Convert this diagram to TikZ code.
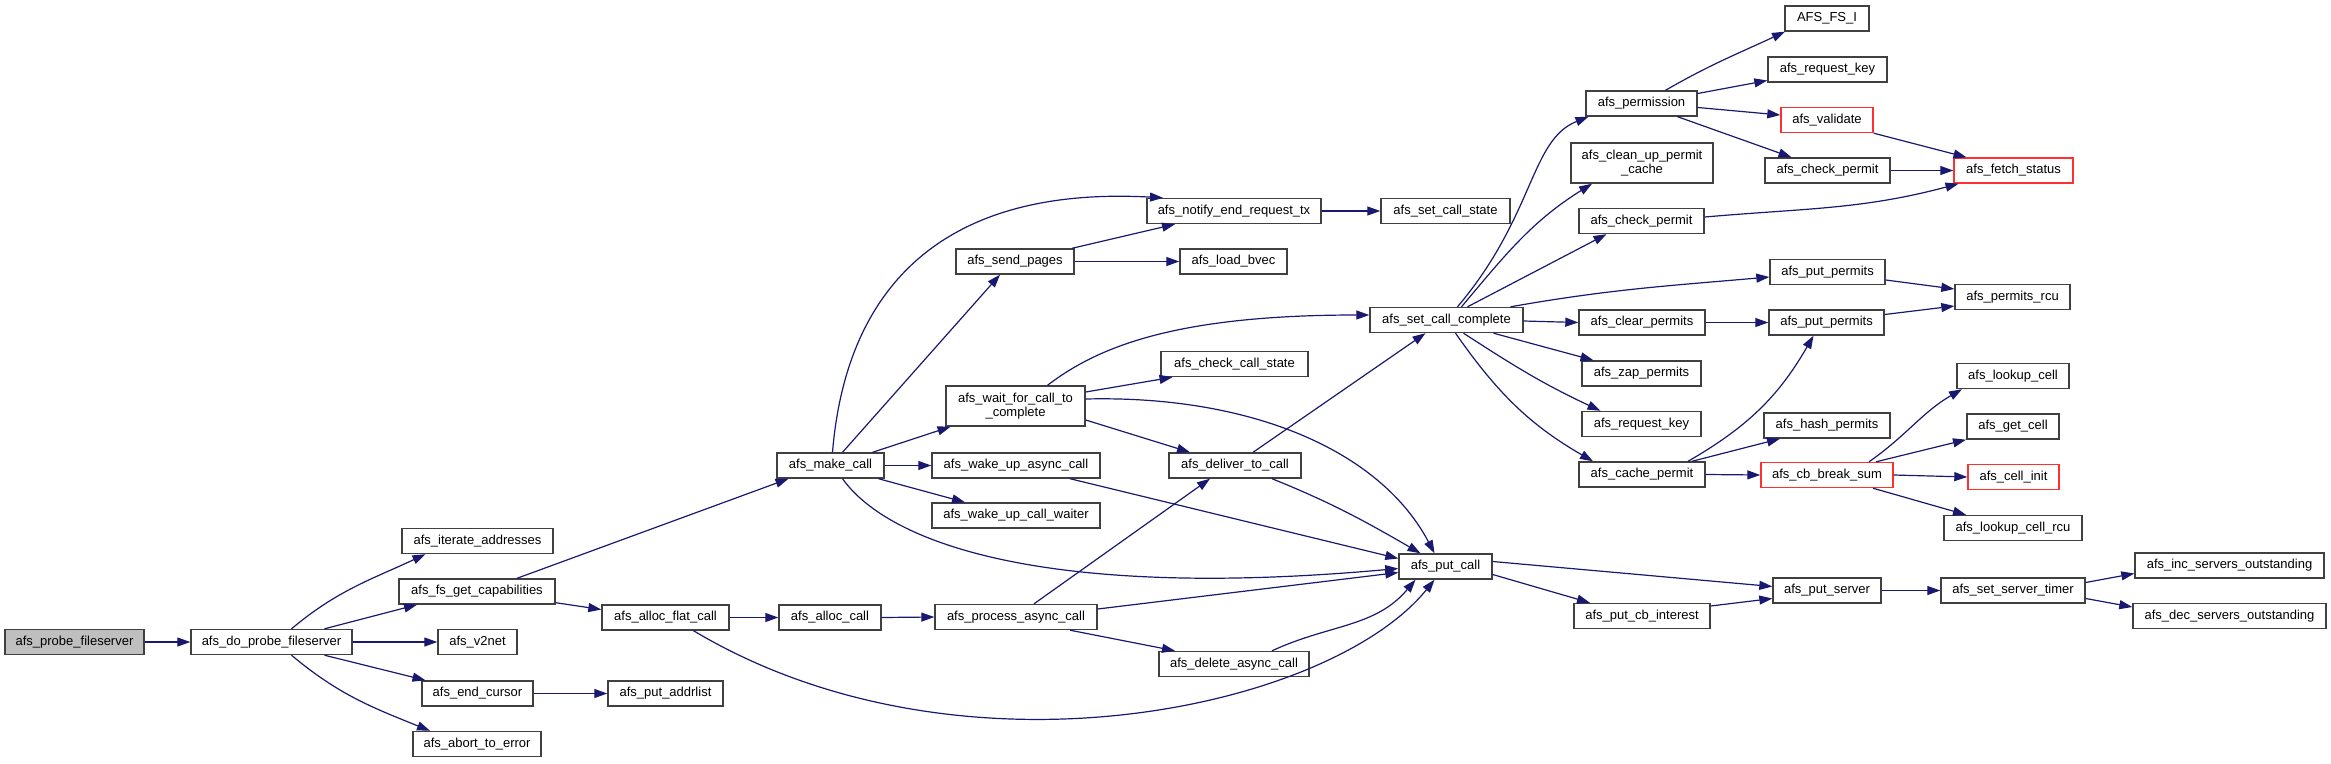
\documentclass[tikz,border=0pt]{standalone}
\usepackage{fontspec}
\setmainfont{Liberation Sans}
\usepackage{tikz}
\usetikzlibrary{arrows.meta}
\definecolor{edgeblue}{HTML}{191970}
\definecolor{rootgrey}{HTML}{BFBFBF}
\definecolor{boxline}{HTML}{404040}
\definecolor{missred}{HTML}{FF3030}

\begin{document}
\begin{tikzpicture}[
        x=1pt, y=-1pt,
        fnbox/.style={draw=boxline, line width=1.4pt, fill=white, inner sep=0pt, minimum height=25pt, font=\fontsize{13}{14}\selectfont, align=center},
        rootbox/.style={fnbox, fill=rootgrey},
        redbox/.style={fnbox, draw=missred},
        call/.style={draw=edgeblue, line width=1.2pt, -{Triangle[length=13pt,width=9pt]}}
    ]
    \path[fill=white, use as bounding box] (0,0) rectangle (2331,763);

    % === Probe side ===
    \node[rootbox, minimum width=139pt] (probe) at (74.5, 642) {afs\_probe\_fileserver};
    \node[fnbox, minimum width=161pt] (doprobe) at (271.5, 642) {afs\_do\_probe\_fileserver};
    \node[fnbox, minimum width=151pt] (iterate) at (477.5, 541) {afs\_iterate\_addresses};
    \node[fnbox, minimum width=156pt] (getcaps) at (477, 591.5) {afs\_fs\_get\_capabilities};
    \node[fnbox, minimum width=79pt] (vtwonet) at (477.5, 642) {afs\_v2net};
    \node[fnbox, minimum width=111pt] (endcursor) at (477.5, 693.5) {afs\_end\_cursor};
    \node[fnbox, minimum width=128pt] (aborterr) at (477, 744) {afs\_abort\_to\_error};
    \node[fnbox, minimum width=127pt] (allocflat) at (665.5, 617.5) {afs\_alloc\_flat\_call};
    \node[fnbox, minimum width=115pt] (putaddr) at (665.5, 693.5) {afs\_put\_addrlist};
    \node[fnbox, minimum width=102pt] (alloccall) at (830, 617.5) {afs\_alloc\_call};
    \node[fnbox, minimum width=107pt] (makecall) at (830.5, 465.5) {afs\_make\_call};

    % === Call machinery ===
    \node[fnbox, minimum width=162pt] (process) at (1016, 617) {afs\_process\_async\_call};
    \node[fnbox, minimum width=168pt] (wakeasync) at (1016, 465.5) {afs\_wake\_up\_async\_call};
    \node[fnbox, minimum width=168pt] (wakewaiter) at (1016, 515.5) {afs\_wake\_up\_call\_waiter};
    \node[fnbox, minimum width=139pt, minimum height=40pt] (waitfor) at (1015.5, 406) {afs\_wait\_for\_call\_to\\\_complete};
    \node[fnbox, minimum width=118pt] (sendpages) at (1015, 261.5) {afs\_send\_pages};
    \node[fnbox, minimum width=174pt] (notify) at (1234, 211) {afs\_notify\_end\_request\_tx};
    \node[fnbox, minimum width=107pt] (loadbvec) at (1233.5, 261.5) {afs\_load\_bvec};
    \node[fnbox, minimum width=147pt] (checkstate) at (1234.5, 364) {afs\_check\_call\_state};
    \node[fnbox, minimum width=132pt] (deliver) at (1235, 465.5) {afs\_deliver\_to\_call};
    \node[fnbox, minimum width=150pt] (deleteasync) at (1234, 664) {afs\_delete\_async\_call};
    \node[fnbox, minimum width=93pt] (putcall) at (1445.5, 566.5) {afs\_put\_call};
    \node[fnbox, minimum width=129pt] (setstate) at (1445.5, 211) {afs\_set\_call\_state};
    \node[fnbox, minimum width=153pt] (setcomplete) at (1446.5, 320) {afs\_set\_call\_complete};

    % === Permits ===
    \node[fnbox, minimum width=111pt] (permission) at (1641.5, 103.5) {afs\_permission};
    \node[fnbox, minimum width=142pt, minimum height=40pt] (cleanup) at (1642, 163) {afs\_clean\_up\_permit\\\_cache};
    \node[fnbox, minimum width=125pt] (checkpermitb) at (1641.5, 221) {afs\_check\_permit};
    \node[fnbox, minimum width=126pt] (clearpermits) at (1642, 322.5) {afs\_clear\_permits};
    \node[fnbox, minimum width=119pt] (zappermits) at (1641.5, 373.5) {afs\_zap\_permits};
    \node[fnbox, minimum width=119pt] (reqkeyb) at (1641.5, 424) {afs\_request\_key};
    \node[fnbox, minimum width=126pt] (cachepermit) at (1642, 474.5) {afs\_cache\_permit};
    \node[fnbox, minimum width=84pt] (fsi) at (1827, 18.5) {AFS\_FS\_I};
    \node[fnbox, minimum width=119pt] (reqkeya) at (1827.5, 69.5) {afs\_request\_key};
    \node[redbox, minimum width=92pt] (validate) at (1827, 120) {afs\_validate};
    \node[fnbox, minimum width=125pt] (checkpermita) at (1827.5, 170.5) {afs\_check\_permit};
    \node[fnbox, minimum width=115pt] (putpermitsa) at (1827.5, 272) {afs\_put\_permits};
    \node[fnbox, minimum width=115pt] (putpermitsb) at (1826.5, 322.5) {afs\_put\_permits};
    \node[fnbox, minimum width=126pt] (hashpermits) at (1827, 425.5) {afs\_hash\_permits};
    \node[redbox, minimum width=132pt] (cbbreak) at (1827, 475) {afs\_cb\_break\_sum};
    \node[redbox, minimum width=119pt] (fetchstatus) at (2013.5, 170.5) {afs\_fetch\_status};
    \node[fnbox, minimum width=115pt] (permitsrcu) at (2012.5, 297) {afs\_permits\_rcu};
    \node[fnbox, minimum width=112pt] (lookupcell) at (2013, 376) {afs\_lookup\_cell};
    \node[fnbox, minimum width=92pt] (getcell) at (2013, 426.5) {afs\_get\_cell};
    \node[redbox, minimum width=91pt] (cellinit) at (2013.5, 477) {afs\_cell\_init};
    \node[fnbox, minimum width=138pt] (lookuprcu) at (2013, 528) {afs\_lookup\_cell\_rcu};

    % === Servers ===
    \node[fnbox, minimum width=136pt] (putcb) at (1642, 616) {afs\_put\_cb\_interest};
    \node[fnbox, minimum width=108pt] (putserver) at (1827, 590.5) {afs\_put\_server};
    \node[fnbox, minimum width=144pt] (servertimer) at (2013, 590.5) {afs\_set\_server\_timer};
    \node[fnbox, minimum width=189pt] (incserv) at (2229.5, 565.5) {afs\_inc\_servers\_outstanding};
    \node[fnbox, minimum width=193pt] (decserv) at (2229.5, 616) {afs\_dec\_servers\_outstanding};

    % === Calls: probe side ===
    \draw[call] (probe.east) -- (doprobe.west);
    \draw[call] ([xshift=20pt]doprobe.north) to[out=40,in=205] ([xshift=-52pt]iterate.south);
    \draw[call] ([xshift=53pt]doprobe.north) -- ([xshift=-60pt]getcaps.south);
    \draw[call] (doprobe.east) -- (vtwonet.west);
    \draw[call] ([xshift=53pt]doprobe.south) -- ([xshift=-52pt]endcursor.north);
    \draw[call] ([xshift=20pt]doprobe.south) to[out=-40,in=158] ([xshift=-47pt]aborterr.north);
    \draw[call] ([xshift=40pt]getcaps.north) -- ([xshift=-42pt]makecall.south);
    \draw[call] ([yshift=2pt]getcaps.south east) -- ([yshift=8pt]allocflat.west);
    \draw[call] (endcursor.east) -- (putaddr.west);
    \draw[call] (allocflat.east) -- (alloccall.west);
    \draw[call] ([xshift=28pt]allocflat.south) .. controls (960,790) and (1330,709) .. ([xshift=-11pt]putcall.south);
    \draw[call] (alloccall.east) -- (process.west);

    % === Calls: call machinery ===
    \draw[call] ([xshift=18pt]process.north) -- ([xshift=-25pt]deliver.south);
    \draw[call] ([yshift=8pt]process.east) -- ([yshift=-6pt]putcall.west);
    \draw[call] ([xshift=54pt]process.south) -- ([xshift=-59pt]deleteasync.north);
    \draw[call] ([xshift=38pt]deleteasync.north) to[out=25,in=-130] ([xshift=-30pt]putcall.south);
    \draw[call] ([xshift=2pt]makecall.north) .. controls (845,300) and (930,185) .. ([xshift=-71pt]notify.north);
    \draw[call] ([xshift=12pt]makecall.north) -- ([xshift=-15pt]sendpages.south);
    \draw[call] ([xshift=42pt]makecall.north) -- ([xshift=-65pt]waitfor.south);
    \draw[call] (makecall.east) -- (wakeasync.west);
    \draw[call] ([xshift=48pt]makecall.south) -- ([xshift=-51pt]wakewaiter.north);
    \draw[call] ([xshift=12pt]makecall.south) .. controls (890,545) and (1050,600) .. ([yshift=-2pt]putcall.west);
    \draw[call] ([xshift=57pt]sendpages.north) -- ([xshift=-59pt]notify.south);
    \draw[call] (sendpages.east) -- (loadbvec.west);
    \draw[call] (notify.east) -- (setstate.west);
    \draw[call] ([xshift=32pt]waitfor.north) .. controls (1100,345) and (1180,315) .. ([yshift=5pt]setcomplete.west);
    \draw[call] ([yshift=14pt]waitfor.east) -- ([xshift=-62pt]checkstate.south);
    \draw[call] ([yshift=7pt]waitfor.east) .. controls (1250,395) and (1380,450) .. ([xshift=-11pt]putcall.north);
    \draw[call] ([yshift=-14pt]waitfor.east) -- ([xshift=-45pt]deliver.north);
    \draw[call] ([xshift=54pt]wakeasync.south) -- ([yshift=8pt]putcall.west);
    \draw[call] ([xshift=18pt]deliver.north) -- ([xshift=-21pt]setcomplete.south);
    \draw[call] ([xshift=37pt]deliver.south) to[out=-22,in=150] ([xshift=-25pt]putcall.north);

    % === Calls: servers ===
    \draw[call] ([yshift=5pt]putcall.east) -- ([yshift=4pt]putserver.west);
    \draw[call] ([yshift=-8pt]putcall.east) -- ([xshift=-52pt]putcb.north);
    \draw[call] ([yshift=10pt]putcb.east) -- ([yshift=-8pt]putserver.west);
    \draw[call] (putserver.east) -- (servertimer.west);
    \draw[call] ([yshift=8pt]servertimer.east) -- ([yshift=-8pt]incserv.west);
    \draw[call] ([yshift=-8pt]servertimer.east) -- ([yshift=9pt]decserv.west);

    % === Calls: permits ===
    \draw[call] ([xshift=11pt]setcomplete.north) .. controls (1535,215) and (1530,140) .. ([xshift=-53pt]permission.south);
    \draw[call] ([xshift=15pt]setcomplete.north) to[out=50,in=212] ([xshift=-50pt]cleanup.south);
    \draw[call] ([xshift=21pt]setcomplete.north) -- ([xshift=-35pt]checkpermitb.south);
    \draw[call] ([xshift=64pt]setcomplete.north) to[out=10,in=185] ([yshift=-5pt]putpermitsa.west);
    \draw[call] ([yshift=-1pt]setcomplete.east) -- (clearpermits.west);
    \draw[call] ([xshift=47pt]setcomplete.south) -- ([xshift=-48pt]zappermits.north);
    \draw[call] ([xshift=17pt]setcomplete.south) to[out=-33,in=155] ([xshift=-41pt]reqkeyb.north);
    \draw[call] ([xshift=9pt]setcomplete.south) to[out=-55,in=150] ([xshift=-49pt]cachepermit.north);
    \draw[call] ([xshift=24pt]permission.north) to[out=30,in=205] ([xshift=-42pt]fsi.south);
    \draw[call] ([yshift=10pt]permission.east) -- ([yshift=-11pt]reqkeya.west);
    \draw[call] ([yshift=-4pt]permission.east) -- ([yshift=5pt]validate.west);
    \draw[call] ([xshift=36pt]permission.south) -- ([xshift=-36pt]checkpermita.north);
    \draw[call] (validate.south east) -- ([xshift=-47pt]fetchstatus.north);
    \draw[call] (checkpermita.east) -- (fetchstatus.west);
    \draw[call] ([yshift=4pt]checkpermitb.east) to[out=5,in=195] ([xshift=-55pt]fetchstatus.south);
    \draw[call] ([yshift=-8pt]putpermitsa.east) -- ([yshift=8pt]permitsrcu.west);
    \draw[call] (clearpermits.east) -- (putpermitsb.west);
    \draw[call] ([yshift=8pt]putpermitsb.east) -- ([yshift=-9pt]permitsrcu.west);
    \draw[call] ([xshift=46pt]cachepermit.north) to[out=30,in=-120] ([xshift=-13pt]putpermitsb.south);
    \draw[call] ([xshift=50pt]cachepermit.north) -- ([xshift=-47pt]hashpermits.south);
    \draw[call] (cachepermit.east) -- (cbbreak.west);
    \draw[call] ([xshift=42pt]cbbreak.north) to[out=35,in=210] ([xshift=-51pt]lookupcell.south);
    \draw[call] ([xshift=49pt]cbbreak.north) -- ([xshift=-47pt]getcell.south);
    \draw[call] (cbbreak.east) -- (cellinit.west);
    \draw[call] ([xshift=46pt]cbbreak.south) -- ([xshift=-47pt]lookuprcu.north);

\end{tikzpicture}
\end{document}
